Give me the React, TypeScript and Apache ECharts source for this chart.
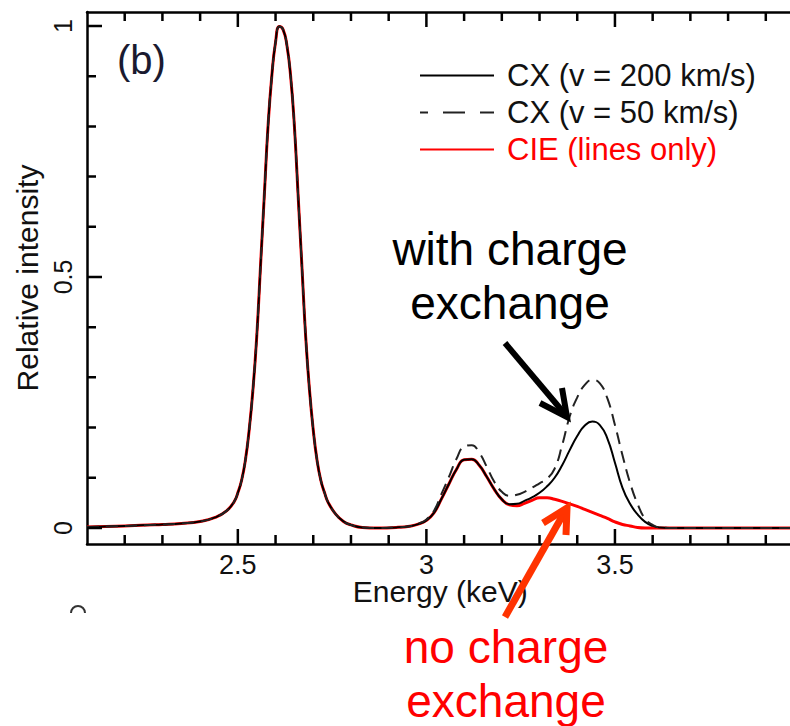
import React, { useEffect, useRef } from "react";
import * as echarts from "echarts";

// ---- data ----
const energy = [
  2.1, 2.2, 2.3, 2.35, 2.4, 2.44, 2.47, 2.49, 2.5, 2.51,
  2.52, 2.53, 2.54, 2.55, 2.56, 2.57, 2.58, 2.59, 2.6, 2.61,
  2.62, 2.63, 2.64, 2.65, 2.66, 2.67, 2.68, 2.69, 2.7, 2.71,
  2.72, 2.73, 2.74, 2.76, 2.78, 2.8, 2.83, 2.87, 2.92, 2.96,
  2.98, 3.0, 3.02, 3.04, 3.06, 3.08, 3.1, 3.12, 3.14, 3.16,
  3.18, 3.2, 3.22, 3.24, 3.26, 3.28, 3.3, 3.32, 3.34, 3.36,
  3.38, 3.4, 3.42, 3.44, 3.46, 3.48, 3.5, 3.52, 3.54, 3.56,
  3.58, 3.6, 3.62, 3.66, 3.75, 3.85, 4.0,
];
const cie = [
  0.002, 0.004, 0.007, 0.009, 0.013, 0.021, 0.034, 0.052, 0.07, 0.095,
  0.135, 0.195, 0.275, 0.38, 0.52, 0.66, 0.8, 0.9, 0.968, 0.999,
  0.993, 0.962, 0.9, 0.8, 0.66, 0.52, 0.38, 0.275, 0.195, 0.135,
  0.095, 0.07, 0.05, 0.027, 0.013, 0.006, 0.001, 0.0, 0.001, 0.004,
  0.008, 0.015, 0.03, 0.058, 0.088, 0.117, 0.136, 0.137, 0.125, 0.102,
  0.077, 0.057, 0.046, 0.044, 0.049, 0.055, 0.06, 0.06, 0.057, 0.053,
  0.048, 0.043, 0.037, 0.031, 0.025, 0.019, 0.012, 0.007, 0.004, 0.001,
  0.0, 0.0, 0.0, 0.0, 0.0, 0.0, 0.0,
];
const cx200 = [
  0.002, 0.004, 0.007, 0.009, 0.013, 0.021, 0.034, 0.052, 0.07, 0.095,
  0.135, 0.195, 0.275, 0.38, 0.52, 0.66, 0.8, 0.9, 0.968, 0.999,
  0.993, 0.962, 0.9, 0.8, 0.66, 0.52, 0.38, 0.275, 0.195, 0.135,
  0.095, 0.07, 0.05, 0.027, 0.013, 0.006, 0.001, 0.0, 0.001, 0.004,
  0.008, 0.015, 0.03, 0.058, 0.088, 0.117, 0.136, 0.137, 0.125, 0.102,
  0.077, 0.057, 0.047, 0.048, 0.054, 0.061, 0.07, 0.083, 0.1, 0.125,
  0.155, 0.183, 0.204, 0.212, 0.205, 0.178, 0.13, 0.08, 0.048, 0.027,
  0.012, 0.004, 0.001, 0.0, 0.0, 0.0, 0.0,
];
const cx50 = [
  0.002, 0.004, 0.007, 0.009, 0.013, 0.021, 0.034, 0.052, 0.07, 0.095,
  0.135, 0.195, 0.275, 0.38, 0.52, 0.66, 0.8, 0.9, 0.968, 0.999,
  0.993, 0.962, 0.9, 0.8, 0.66, 0.52, 0.38, 0.275, 0.195, 0.135,
  0.095, 0.07, 0.05, 0.027, 0.013, 0.006, 0.001, 0.0, 0.001, 0.004,
  0.009, 0.017, 0.034, 0.068, 0.102, 0.138, 0.162, 0.165, 0.15, 0.122,
  0.092, 0.072, 0.064, 0.066, 0.072, 0.08, 0.089, 0.098, 0.118, 0.165,
  0.222, 0.26, 0.285, 0.295, 0.288, 0.258, 0.205, 0.145, 0.09, 0.048,
  0.018, 0.006, 0.001, 0.0, 0.0, 0.0, 0.0,
];

const xMinorTicks = [
  2.2, 2.3, 2.4, 2.5, 2.6, 2.7, 2.8, 2.9, 3.0, 3.1,
  3.2, 3.3, 3.4, 3.5, 3.6, 3.7, 3.8, 3.9,
];
const xMajorTicks = [2.5, 3, 3.5];
const xTickLabels = [2.5, 3, 3.5];
const yMinorTicks = [0, 0.1, 0.2, 0.3, 0.4, 0.5, 0.6, 0.7, 0.8, 0.9, 1.0];
const yMajorTicks = [0, 0.5, 1];
const yTickLabels = [0, 0.5, 1];

const seriesNames = ["CX (v = 200 km/s)", "CX (v = 50 km/s)", "CIE (lines only)"];

const FONT = "'Liberation Sans', Arial, Helvetica, sans-serif";
const X_MIN = 2.1;
const X_MAX = 4.0;
const Y_MIN = -0.032;
const Y_MAX = 1.028;
const GRID_W = 716.5;
const GRID_H = 532;
const MINOR_LEN = 9;
const MAJOR_LEN = 15;

export default function App() {
  const ref = useRef<HTMLDivElement>(null);

  useEffect(() => {
    if (!ref.current) return;
    const chart = echarts.init(ref.current, null, { renderer: "svg" });
    const pairs = (vals: number[]) => energy.map((e, i) => [e, vals[i]]);
    const frameLine = { show: true, onZero: false, lineStyle: { color: "#000", width: 2.5 } };
    const isMajor = (list: number[], v: number) => list.some((m) => Math.abs(m - v) < 1e-9);
    // tick lengths (pixels) expressed in axis units
    const xLen = (p: number) => (p * (X_MAX - X_MIN)) / GRID_W;
    const yLen = (p: number) => (p * (Y_MAX - Y_MIN)) / GRID_H;

    // tick marks as short segments of a line series (gaps between them)
    const tickData: any[] = [];
    xMinorTicks.forEach((v) => {
      const L = yLen(isMajor(xMajorTicks, v) ? MAJOR_LEN : MINOR_LEN);
      tickData.push([v, Y_MIN], [v, Y_MIN + L], [v, "-"]);
      tickData.push([v, Y_MAX], [v, Y_MAX - L], [v, "-"]);
    });
    yMinorTicks.forEach((v) => {
      const L = xLen(isMajor(yMajorTicks, v) ? MAJOR_LEN : MINOR_LEN);
      tickData.push([X_MIN, v], [X_MIN + L, v], ["-", v]);
    });

    const lineSeries = (name: string, vals: number[], lineStyle: any, z: number) => ({
      name,
      type: "line",
      data: pairs(vals),
      smooth: 0.5,
      symbol: "none",
      showSymbol: false,
      lineStyle,
      itemStyle: { color: lineStyle.color },
      z,
    });

    const option: any = {
      animation: false,
      backgroundColor: "#fff",
      grid: {
        left: 87,
        top: 12,
        width: GRID_W,
        height: GRID_H,
        containLabel: false,
        outerBoundsMode: "none",
      },
      legend: {
        orient: "vertical",
        left: 414,
        top: 55,
        itemWidth: 74,
        itemHeight: 14,
        itemGap: 6,
        selectedMode: false,
        itemStyle: { opacity: 0 },
        textStyle: {
          fontSize: 31,
          fontFamily: FONT,
          color: "#111",
          lineHeight: 31,
          padding: [0, 0, 0, 8],
        },
        data: [
          { name: seriesNames[0], textStyle: { color: "#111" } },
          {
            name: seriesNames[1],
            lineStyle: { type: [22, 15], dashOffset: 14 },
            textStyle: { color: "#111" },
          },
          { name: seriesNames[2], textStyle: { color: "#ff0000" } },
        ],
      },
      xAxis: [
        {
          type: "value",
          min: X_MIN,
          max: X_MAX,
          position: "bottom",
          splitLine: { show: false },
          axisLine: frameLine,
          axisTick: { show: false },
          axisLabel: {
            show: true,
            customValues: xTickLabels,
            formatter: (v: number) => String(v),
            fontSize: 27,
            lineHeight: 20,
            fontFamily: FONT,
            color: "#111",
            margin: 11,
          },
          name: "Energy (keV)",
          nameLocation: "middle",
          nameGap: 35,
          nameMoveOverlap: false,
          nameTextStyle: {
            fontSize: 30,
            lineHeight: 24,
            fontFamily: FONT,
            color: "#111",
            padding: [0, 10, 0, 0],
          },
        },
        {
          type: "value",
          min: X_MIN,
          max: X_MAX,
          position: "top",
          splitLine: { show: false },
          axisLine: frameLine,
          axisTick: { show: false },
          axisLabel: { show: false },
        },
      ],
      yAxis: [
        {
          type: "value",
          min: Y_MIN,
          max: Y_MAX,
          position: "left",
          splitLine: { show: false },
          axisLine: frameLine,
          axisTick: { show: false },
          axisLabel: {
            show: true,
            customValues: yTickLabels,
            formatter: (v: number) => String(v),
            rotate: 90,
            fontSize: 25,
            fontFamily: FONT,
            color: "#111",
            margin: 12,
          },
          name: "Relative intensity",
          nameLocation: "middle",
          nameGap: 45,
          nameRotate: 90,
          nameMoveOverlap: false,
          nameTextStyle: { fontSize: 30, fontFamily: FONT, color: "#111" },
        },
        {
          type: "value",
          min: Y_MIN,
          max: Y_MAX,
          position: "right",
          splitLine: { show: false },
          axisLine: frameLine,
          axisTick: { show: false },
          axisLabel: { show: false },
        },
      ],
      series: [
        lineSeries(seriesNames[2], cie, { color: "#ff0000", width: 3 }, 2),
        lineSeries(seriesNames[0], cx200, { color: "#000", width: 2 }, 3),
        lineSeries(seriesNames[1], cx50, { color: "#222", width: 2, type: [12, 7] }, 4),
        {
          name: "ticks",
          type: "line",
          data: tickData,
          xAxisIndex: 0,
          yAxisIndex: 0,
          smooth: false,
          connectNulls: false,
          symbol: "none",
          showSymbol: false,
          clip: false,
          silent: true,
          lineStyle: { color: "#000", width: 2.5, cap: "butt" },
          itemStyle: { color: "#000" },
          z: 6,
        },
      ],
      graphic: [
        {
          type: "text",
          x: 117,
          y: 60,
          z: 10,
          style: {
            text: "(b)",
            fontSize: 40,
            fontFamily: FONT,
            fill: "#1a1a30",
            align: "left",
            verticalAlign: "middle",
          },
        },
        {
          type: "text",
          x: 510,
          y: 222,
          z: 10,
          style: {
            text: "with charge\nexchange",
            fontSize: 46,
            fontFamily: FONT,
            fill: "#000",
            align: "center",
            verticalAlign: "top",
            lineHeight: 54,
          },
        },
        {
          type: "text",
          x: 506,
          y: 620,
          z: 10,
          style: {
            text: "no charge\nexchange",
            fontSize: 46,
            fontFamily: FONT,
            fill: "#ff0000",
            align: "center",
            verticalAlign: "top",
            lineHeight: 54,
          },
        },
        {
          type: "line",
          z: 10,
          shape: { x1: 505, y1: 343, x2: 564, y2: 413 },
          style: { stroke: "#000", lineWidth: 6 },
        },
        {
          type: "polyline",
          z: 10,
          shape: { points: [[540, 403], [567, 417], [562, 388]] },
          style: { stroke: "#000", lineWidth: 6, fill: null, lineJoin: "miter" },
        },
        {
          type: "line",
          z: 10,
          shape: { x1: 505, y1: 617, x2: 564, y2: 513 },
          style: { stroke: "#ff3300", lineWidth: 7 },
        },
        {
          type: "polyline",
          z: 10,
          shape: { points: [[543, 523], [567, 508], [566, 535]] },
          style: { stroke: "#ff3300", lineWidth: 7, fill: null, lineJoin: "miter" },
        },
        {
          type: "arc",
          z: 10,
          shape: { cx: 78, cy: 613, r: 7, startAngle: Math.PI, endAngle: 2 * Math.PI },
          style: { stroke: "#333", lineWidth: 2, fill: null },
        },
      ],
    };

    chart.setOption(option);
    return () => chart.dispose();
  }, []);

  return (
    <div
      style={{
        position: "absolute",
        left: 0,
        top: 0,
        width: 790,
        height: 726,
        overflow: "hidden",
        background: "#fff",
      }}
    >
      <div ref={ref} style={{ width: 830, height: 726 }} />
    </div>
  );
}
